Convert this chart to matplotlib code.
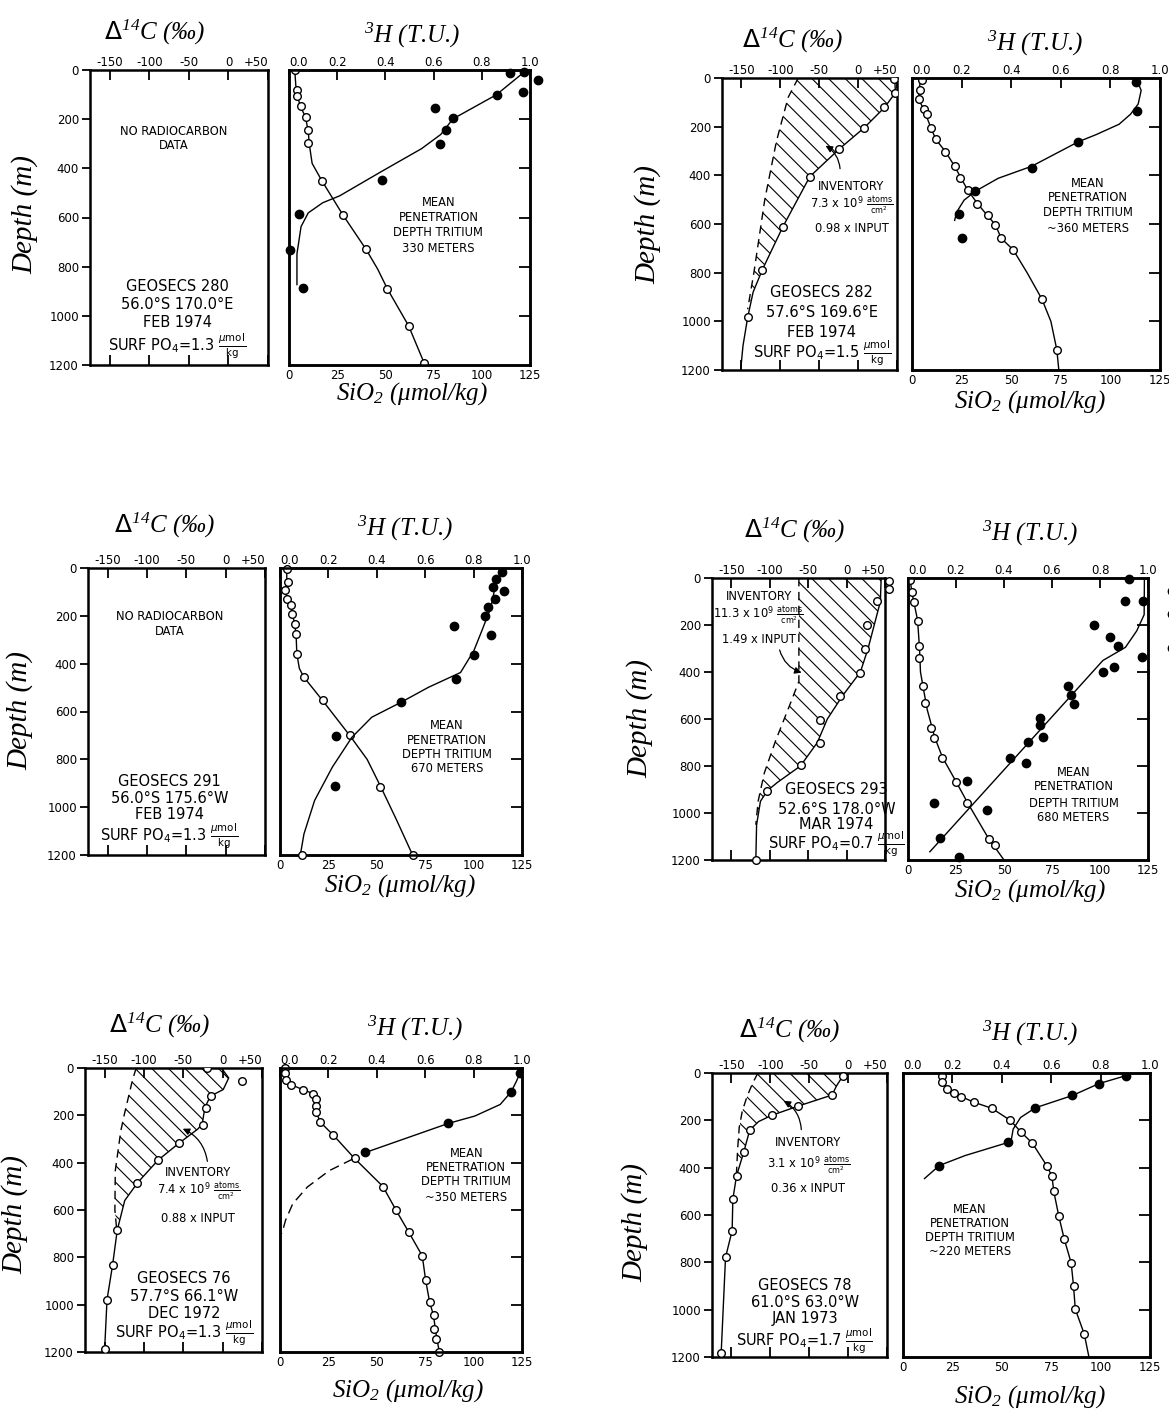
import matplotlib
matplotlib.use('Agg')
import matplotlib.pyplot as plt
import numpy as np

plt.rcParams['font.family'] = 'DejaVu Sans'
plt.rcParams['mathtext.fontset'] = 'dejavusans'
plt.rcParams['hatch.linewidth'] = 0.8

# ---------------- data (depth in m) ----------------
# GEOSECS 280
s280_si = [3, 4, 4, 6, 9, 10, 10, 17, 28, 40, 51, 62, 70]
s280_si_z = [0, 80, 105, 145, 190, 245, 295, 450, 590, 730, 890, 1040, 1190]
s280_si_fit = [3, 3.5, 4.5, 6, 8.5, 10, 10.5, 12, 17, 28, 40, 46, 51, 62, 70, 71]
s280_si_fit_z = [0, 60, 110, 150, 190, 250, 300, 380, 450, 590, 730, 810, 890, 1040, 1190, 1200]
s280_tu = [0.916, 0.975, 1.034, 0.970, 0.863, 0.606, 0.679, 0.653, 0.626, 0.384, 0.040, 0.003, 0.058]
s280_tu_z = [14, 8, 42, 88, 101, 154, 195, 243, 299, 449, 585, 734, 887]
s280_tu_fit = [0.98, 0.86, 0.68, 0.63, 0.55, 0.38, 0.21, 0.14, 0.08, 0.05, 0.033, 0.033]
s280_tu_fit_z = [5, 101, 199, 262, 320, 415, 512, 540, 581, 637, 748, 873]

# GEOSECS 282
s282_c = [46.6, 47.6, 33.6, 8.1, -24.2, -61.8, -97, -123, -142.2]
s282_c_z = [3, 62, 121, 204, 291, 405, 613, 787, 984]
s282_c_fit = [47, 48, 34, 8, -24, -62, -97, -123, -135, -142, -148, -151]
s282_c_fit_z = [0, 60, 121, 204, 291, 405, 613, 787, 880, 984, 1100, 1200]
s282_c_pre = [-77, -90, -105, -120, -134, -142]
s282_c_pre_z = [0, 80, 260, 500, 800, 950]
s282_si = [4.8, 3.8, 3.4, 5.9, 7.6, 9.5, 12.0, 16.8, 21.5, 24.4, 28.2, 33.0, 38.1, 41.9, 45.0, 51.1, 65.5, 73.0]
s282_si_z = [7, 49, 86, 128, 148, 204, 252, 304, 363, 409, 460, 516, 565, 603, 659, 706, 909, 1117]
s282_si_fit = [4.5, 3.5, 3.5, 6, 9.5, 12, 17, 21.5, 28, 33, 38, 42, 45, 51, 58, 65.5, 70, 73, 74]
s282_si_fit_z = [0, 50, 90, 130, 204, 252, 304, 363, 460, 516, 565, 603, 659, 706, 800, 909, 1000, 1117, 1200]
s282_tu = [0.904, 0.907, 0.671, 0.482, 0.253, 0.191, 0.200]
s282_tu_z = [17, 135, 262, 368, 465, 560, 659]
s282_tu_fit = [0.912, 0.924, 0.912, 0.881, 0.835, 0.744, 0.671, 0.482, 0.348, 0.256, 0.210, 0.180, 0.172]
s282_tu_fit_z = [21, 51, 107, 149, 190, 232, 262, 363, 412, 465, 502, 551, 585]

# GEOSECS 291
s291_si = [3.7, 4.0, 2.6, 3.7, 5.9, 6.3, 7.7, 8.3, 8.7, 12.3, 22.1, 36.3, 51.9, 68.5]
s291_si_z = [3, 59, 93, 131, 156, 194, 233, 275, 359, 456, 554, 700, 914, 1200]
s291_si_fit = [3.5, 3.5, 2.8, 4, 6, 7.5, 8.3, 8.7, 10, 12.3, 22, 36, 45, 52, 60, 68.5]
s291_si_fit_z = [0, 55, 95, 140, 175, 233, 275, 359, 420, 456, 554, 700, 800, 914, 1050, 1200]
s291_tu = [0.916, 0.894, 0.881, 0.926, 0.887, 0.859, 0.847, 0.717, 0.872, 0.801, 0.729, 0.501, 0.231, 0.227]
s291_tu_z = [17, 47, 80, 96, 131, 163, 202, 243, 280, 365, 466, 561, 703, 912]
s291_tu_low = [0.091]
s291_tu_low_z = [1200]
s291_tu_fit = [0.923, 0.901, 0.886, 0.872, 0.835, 0.801, 0.746, 0.613, 0.501, 0.379, 0.297, 0.216, 0.143, 0.099, 0.084]
s291_tu_fit_z = [7, 45, 93, 163, 260, 346, 437, 499, 561, 624, 708, 833, 972, 1112, 1200]

# GEOSECS 293
s293_c = [55.8, 55.8, 39.0, 26.0, 24.5, 17.3, -8.6, -34.1, -34.1, -59.6, -102.9, -118.3]
s293_c_z = [14, 47, 96, 200, 302, 404, 504, 604, 702, 796, 905, 1200]
s293_c_fit = [45, 44, 36, 28, 18, -5, -25, -38, -60, -90, -103, -112, -117, -118]
s293_c_fit_z = [0, 100, 200, 300, 400, 500, 600, 700, 800, 870, 905, 950, 1050, 1200]
s293_c_pre = [-62, -62, -75, -92, -107, -115, -118]
s293_c_pre_z = [0, 440, 550, 690, 830, 950, 1050]
s293_si = [1.2, 2.0, 2.9, 5.1, 5.9, 5.9, 7.8, 9.0, 11.8, 13.3, 17.8, 25.1, 30.9, 42.3, 45.3]
s293_si_z = [7, 61, 103, 184, 291, 341, 459, 532, 640, 682, 764, 866, 956, 1109, 1137]
s293_si_fit = [1, 2, 3, 5, 6, 6.5, 8, 10, 14, 18, 25, 31, 42, 50]
s293_si_fit_z = [0, 60, 100, 180, 300, 400, 470, 560, 680, 764, 866, 956, 1109, 1200]
s293_tu = [0.922, 0.906, 0.980, 1.099, 1.099, 1.099, 0.776, 0.843, 0.875, 0.976, 0.859, 0.812, 0.666,
           0.679, 0.690, 0.550, 0.550, 0.564, 0.498, 0.423, 0.491, 0.245, 0.107, 0.331, 0.133, 0.212]
s293_tu_z = [3, 97, 97, 56, 153, 299, 198, 249, 288, 337, 379, 401, 458,
             500, 535, 597, 626, 675, 696, 766, 786, 863, 956, 988, 1105, 1189]
s293_tu_fit = [0.985, 0.984, 0.953, 0.906, 0.812, 0.45, 0.091]
s293_tu_fit_z = [0, 156, 225, 295, 351, 760, 1165]

# GEOSECS 76
s76_c = [-19.4, 24.2, -14.7, -21.7, -25, -56, -81.7, -108.4, -134.2, -139.8, -146.9, -149.7]
s76_c_z = [0, 53, 119, 168, 241, 319, 389, 484, 685, 834, 979, 1186]
s76_c_fit = [-1.7, 7.7, 0.7, -15.7, -22.7, -26, -32, -56, -82, -108, -124.5, -134, -140, -147, -150, -150]
s76_c_fit_z = [0, 42, 91, 119, 168, 238, 259, 319, 389, 484, 560, 685, 834, 979, 1186, 1200]
s76_c_pre = [-110, -115, -120, -125, -129.5, -136.5, -137, -134.5]
s76_c_pre_z = [0, 56, 126, 196, 266, 434, 600, 690]
s76_si = [2.8, 2.8, 3.2, 5.6, 11.7, 17.3, 18.8, 18.8, 18.8, 20.7, 27.6, 38.5, 53.2, 59.8, 66.4, 73.5,
          75.2, 77.3, 79.3, 79.3, 80.8, 82.3]
s76_si_z = [0, 21, 49, 70, 91, 109, 133, 161, 186, 228, 284, 382, 501, 599, 692, 794,
            895, 990, 1045, 1102, 1147, 1200]
s76_si_fit = [2.8, 2.8, 3.2, 5.6, 11.7, 17.3, 18.8, 18.8, 20.7, 27.6, 38.5, 53.2, 59.8, 66.4, 73.5,
              75.2, 77.3, 79.3, 80.5, 82.3]
s76_si_fit_z = [0, 21, 49, 70, 91, 109, 133, 186, 228, 284, 382, 501, 599, 692, 794,
                895, 990, 1045, 1120, 1200]
s76_tu = [0.992, 0.955, 0.696, 0.353]
s76_tu_z = [21, 101, 234, 357]
s76_tu_fit = [0.997, 0.992, 0.977, 0.955, 0.91, 0.805, 0.696, 0.353]
s76_tu_fit_z = [0, 21, 56, 101, 154, 203, 234, 357]
s76_tu_ext = [0.30, 0.203, 0.113, 0.053, 0.023, 0.008]
s76_tu_ext_z = [385, 434, 503, 573, 643, 699]

# GEOSECS 78
s78_c = [-6.5, -20.6, -64.4, -98.3, -126.5, -134, -143.5, -148.2, -149.1, -157.6, -163.2]
s78_c_z = [11, 93, 140, 179, 241, 332, 435, 533, 666, 779, 1183]
s78_c_fit = [-3, -6.5, -15, -20.6, -64.4, -98.3, -115, -126.5, -134, -143.5, -148.2, -149.1, -157.6, -163.2, -163.5]
s78_c_fit_z = [0, 11, 55, 93, 140, 179, 205, 241, 332, 435, 533, 666, 779, 1183, 1200]
s78_c_pre = [-116, -123, -130, -136, -140, -142, -143.5]
s78_c_pre_z = [0, 45, 100, 160, 230, 320, 420]
s78_si = [19.6, 19.6, 22.5, 25.8, 29.6, 35.7, 44.9, 54.3, 59.9, 65.5, 73.0, 75.4, 76.3, 78.8, 81.6,
          85.1, 86.3, 87.2, 91.7]
s78_si_z = [11, 39, 66, 84, 100, 123, 149, 200, 251, 297, 395, 437, 500, 603, 702, 802, 900, 998, 1102]
s78_si_fit = [19.6, 19.6, 19.6, 22.5, 25.8, 29.6, 35.7, 44.9, 54.3, 59.9, 65.5, 73.0, 75.4, 76.3, 78.8,
              81.6, 85.1, 86.3, 87.2, 91.7, 94.1]
s78_si_fit_z = [0, 11, 39, 66, 84, 100, 123, 149, 200, 251, 297, 395, 437, 500, 603, 702, 802, 900,
                998, 1102, 1200]
s78_tu = [0.903, 0.793, 0.686, 0.536, 0.427, 0.147]
s78_tu_z = [11, 45, 95, 147, 293, 391]
s78_tu_fit = [0.918, 0.903, 0.793, 0.686, 0.536, 0.476, 0.446, 0.439, 0.427, 0.251, 0.147, 0.087]
s78_tu_fit_z = [0, 11, 45, 95, 147, 188, 237, 279, 293, 349, 391, 446]

c14_ticks = [-150, -100, -50, 0, 50]
c14_labels = ['-150', '-100', '-50', '0', '+50']
tu_ticks = [0.0, 0.2, 0.4, 0.6, 0.8, 1.0]
si_ticks = [0, 25, 50, 75, 100, 125]
depth_ticks = [0, 200, 400, 600, 800, 1000, 1200]

# ---------------- figure ----------------
W, H = 1169, 1412
fig = plt.figure(figsize=(W / 100, H / 100), dpi=100, facecolor='white')
serif = dict(family='Liberation Serif', style='italic')


def rect(x0, y0, x1, y1):
    return [x0 / W, 1 - y1 / H, (x1 - x0) / W, (y1 - y0) / H]


def ftext(x, y, s, **kw):
    fig.text(x / W, 1 - y / H, s, ha='center', va='center', **kw)


def c14_axes(x0, y0, x1, y1):
    ax = fig.add_axes(rect(x0, y0, x1, y1))
    ax.set_xlim(-175, 50)
    ax.set_ylim(1200, 0)
    ax.set_yticks(depth_ticks)
    ax.tick_params(axis='y', direction='out', length=6, width=1.3, labelsize=8.5, pad=2)
    ax.set_xticks(c14_ticks)
    ax.set_xticklabels(c14_labels)
    ax.tick_params(axis='x', direction='in', length=7, width=1.3, top=True, bottom=True,
                   labeltop=True, labelbottom=False, labelsize=8.5, pad=1)
    ax.get_xticklabels()[-1].set_ha('right')
    for s in ax.spines.values():
        s.set_linewidth(1.8)
    return ax


def h3_axes(x0, y0, x1, y1):
    ax = fig.add_axes(rect(x0, y0, x1, y1))
    ax.set_xlim(0, 125)
    ax.set_ylim(1200, 0)
    ax.set_xticks(si_ticks)
    ax.tick_params(axis='x', direction='in', length=0, labelsize=8.5, pad=3)
    ax.set_yticks([200, 400, 600, 800, 1000])
    ax.tick_params(axis='y', direction='in', length=8, width=1.3, left=False, right=True,
                   labelleft=False)
    at = ax.twiny()
    at.set_xlim(0, 1)
    at.set_xticks(tu_ticks)
    at.set_xticklabels(['%.1f' % t for t in tu_ticks])
    at.tick_params(axis='x', direction='in', length=7, width=1.3, labelsize=8.5, pad=1)
    at.get_xticklabels()[0].set_ha('left')
    for a in (ax, at):
        for s in a.spines.values():
            s.set_linewidth(1.8)
    return ax, at


def open_pts(ax, x, z, clip=True):
    ax.plot(x, z, 'o', ms=5.5, mfc='white', mec='black', mew=1.0, zorder=5, clip_on=clip)


def full_pts(ax, x, z, clip=True):
    ax.plot(x, z, 'o', ms=6, mfc='black', mec='black', zorder=5, clip_on=clip)


def fit_line(ax, x, z, ls='-'):
    ax.plot(x, z, color='black', lw=1.0, ls=ls, zorder=3)


def hatch(ax, fit, fit_z, pre, pre_z):
    fit = np.array(fit)
    fit_z = np.array(fit_z)
    m = fit_z <= max(pre_z)
    xs = np.concatenate([fit[m], np.array(pre)[::-1]])
    zs = np.concatenate([fit_z[m], np.array(pre_z)[::-1]])
    ax.fill(xs, zs, facecolor='none', edgecolor='black', hatch='\\\\', lw=0, zorder=1)
    ax.plot(pre, pre_z, color='black', lw=1.0, ls=(0, (6, 4)), zorder=3)


def lines(ax, items, x, ys, size):
    for s, y in zip(items, ys):
        ax.text(x, y, s, transform=ax.transAxes, ha='center', va='center', fontsize=size, zorder=6)


def headings(cx, hx, ty, dx, dy, sx, sy):
    ftext(cx, ty, r'$\Delta\mathregular{^{14}}$C (‰)', fontsize=18, **serif)
    ftext(hx, ty + 3, r'$\mathregular{^3}$H (T.U.)', fontsize=18, **serif)
    ftext(dx, dy, 'Depth (m)', fontsize=21, rotation=90, **serif)
    ftext(sx, sy, r'SiO$\mathregular{_2}$ (μmol/kg)', fontsize=18, **serif)


po4 = r'SURF PO$_4$=%s $\frac{\mu\mathrm{mol}}{\mathrm{kg}}$'
mp = ['MEAN', 'PENETRATION', 'DEPTH TRITIUM']
inv = r'%s x 10$^9$ $\frac{\mathrm{atoms}}{\mathrm{cm}^2}$'
ST = 10.5   # station text size
SM = 8.3    # small lettering size

# ---- GEOSECS 280 ----
ac = c14_axes(90, 70, 268, 365)
ah, at = h3_axes(289, 70, 530, 365)
lines(ac, ['NO RADIOCARBON', 'DATA'], 0.47, [0.79, 0.745], SM)
lines(ac, ['GEOSECS 280', '56.0°S 170.0°E', 'FEB 1974', po4 % '1.3'], 0.49, [0.265, 0.205, 0.145, 0.062], ST)
fit_line(ah, s280_si_fit, s280_si_fit_z)
open_pts(ah, s280_si, s280_si_z)
fit_line(at, s280_tu_fit, s280_tu_fit_z)
full_pts(at, s280_tu, s280_tu_z, clip=False)
lines(ah, mp + ['330 METERS'], 0.62, [0.55, 0.5, 0.45, 0.395], SM)
headings(155, 412, 32, 25, 215, 412, 394)

# ---- GEOSECS 282 ----
ac = c14_axes(722, 78, 897, 370)
ah, at = h3_axes(912, 78, 1160, 370)
hatch(ac, s282_c_fit, s282_c_fit_z, s282_c_pre, s282_c_pre_z)
fit_line(ac, s282_c_fit, s282_c_fit_z)
open_pts(ac, s282_c, s282_c_z)
lines(ac, ['INVENTORY', inv % '7.3', '0.98 x INPUT'], 0.74, [0.628, 0.562, 0.483], SM)
ac.annotate('', xy=(-45, 273), xytext=(-23, 384),
            arrowprops=dict(arrowstyle='-|>', lw=0.9, color='black', connectionstyle='arc3,rad=0.3'))
lines(ac, ['GEOSECS 282', '57.6°S 169.6°E', 'FEB 1974', po4 % '1.5'], 0.57, [0.265, 0.197, 0.13, 0.057], ST)
fit_line(ah, s282_si_fit, s282_si_fit_z)
open_pts(ah, s282_si, s282_si_z)
fit_line(at, s282_tu_fit, s282_tu_fit_z)
full_pts(at, s282_tu, s282_tu_z)
lines(ah, mp + ['~360 METERS'], 0.71, [0.64, 0.59, 0.54, 0.483], SM)
headings(793, 1035, 40, 648, 225, 1030, 402)

# ---- GEOSECS 291 ----
ac = c14_axes(88, 568, 265, 855)
ah, at = h3_axes(280, 568, 522, 855)
lines(ac, ['NO RADIOCARBON', 'DATA'], 0.46, [0.83, 0.78], SM)
lines(ac, ['GEOSECS 291', '56.0°S 175.6°W', 'FEB 1974', po4 % '1.3'], 0.46, [0.255, 0.198, 0.14, 0.065], ST)
fit_line(ah, s291_si_fit, s291_si_fit_z)
open_pts(ah, s291_si, s291_si_z, clip=False)
fit_line(at, s291_tu_fit, s291_tu_fit_z)
full_pts(at, s291_tu, s291_tu_z)
open_pts(at, s291_tu_low, s291_tu_low_z, clip=False)
lines(ah, mp + ['670 METERS'], 0.69, [0.45, 0.4, 0.35, 0.3], SM)
headings(165, 405, 525, 20, 710, 400, 886)

# ---- GEOSECS 293 ----
ac = c14_axes(712, 578, 885, 860)
ah, at = h3_axes(908, 578, 1148, 860)
hatch(ac, s293_c_fit, s293_c_fit_z, s293_c_pre, s293_c_pre_z)
fit_line(ac, s293_c_fit, s293_c_fit_z)
open_pts(ac, s293_c, s293_c_z, clip=False)
lines(ac, ['INVENTORY', inv % '11.3', '1.49 x INPUT'], 0.27, [0.934, 0.864, 0.783], SM)
ac.annotate('', xy=(-55, 406), xytext=(-88, 295),
            arrowprops=dict(arrowstyle='-|>', lw=0.9, color='black', connectionstyle='arc3,rad=0.3'))
lines(ac, ['GEOSECS 293', '52.6°S 178.0°W', 'MAR 1974', po4 % '0.7'], 0.72, [0.25, 0.18, 0.125, 0.055], ST)
fit_line(ah, s293_si_fit, s293_si_fit_z)
open_pts(ah, s293_si, s293_si_z)
fit_line(at, s293_tu_fit, s293_tu_fit_z)
full_pts(at, s293_tu, s293_tu_z, clip=False)
lines(ah, mp + ['680 METERS'], 0.69, [0.31, 0.26, 0.2, 0.15], SM)
headings(795, 1030, 530, 640, 718, 1030, 891)

# ---- GEOSECS 76 ----
ac = c14_axes(85, 1068, 262, 1352)
ah, at = h3_axes(280, 1068, 522, 1352)
hatch(ac, s76_c_fit, s76_c_fit_z, s76_c_pre, s76_c_pre_z)
fit_line(ac, s76_c_fit, s76_c_fit_z)
open_pts(ac, s76_c, s76_c_z)
lines(ac, ['INVENTORY', inv % '7.4', '0.88 x INPUT'], 0.64, [0.631, 0.563, 0.47], SM)
ac.annotate('', xy=(-54, 252), xytext=(-19, 406),
            arrowprops=dict(arrowstyle='-|>', lw=0.9, color='black', connectionstyle='arc3,rad=0.3'))
lines(ac, ['GEOSECS 76', '57.7°S 66.1°W', 'DEC 1972', po4 % '1.3'], 0.56, [0.26, 0.195, 0.135, 0.065], ST)
fit_line(ah, s76_si_fit, s76_si_fit_z)
open_pts(ah, s76_si, s76_si_z, clip=False)
fit_line(at, s76_tu_fit, s76_tu_fit_z)
fit_line(at, s76_tu_ext, s76_tu_ext_z, ls=(0, (7, 4)))
full_pts(at, s76_tu, s76_tu_z)
lines(ah, mp + ['~350 METERS'], 0.77, [0.7, 0.65, 0.6, 0.545], SM)
headings(160, 415, 1025, 15, 1215, 408, 1391)

# ---- GEOSECS 78 ----
ac = c14_axes(712, 1073, 887, 1357)
ah, at = h3_axes(903, 1073, 1150, 1357)
hatch(ac, s78_c_fit, s78_c_fit_z, s78_c_pre, s78_c_pre_z)
fit_line(ac, s78_c_fit, s78_c_fit_z)
open_pts(ac, s78_c, s78_c_z, clip=False)
lines(ac, ['INVENTORY', inv % '3.1', '0.36 x INPUT'], 0.55, [0.754, 0.673, 0.593], SM)
ac.annotate('', xy=(-86, 112), xytext=(-60, 251),
            arrowprops=dict(arrowstyle='-|>', lw=0.9, color='black', connectionstyle='arc3,rad=0.3'))
lines(ac, ['GEOSECS 78', '61.0°S 63.0°W', 'JAN 1973', po4 % '1.7'], 0.53, [0.25, 0.192, 0.134, 0.055], ST)
fit_line(ah, s78_si_fit, s78_si_fit_z)
open_pts(ah, s78_si, s78_si_z)
fit_line(at, s78_tu_fit, s78_tu_fit_z)
full_pts(at, s78_tu, s78_tu_z)
lines(ah, mp + ['~220 METERS'], 0.27, [0.52, 0.47, 0.42, 0.37], SM)
headings(790, 1030, 1030, 635, 1222, 1030, 1397)

fig.savefig('out.png', dpi=100, facecolor='white')
